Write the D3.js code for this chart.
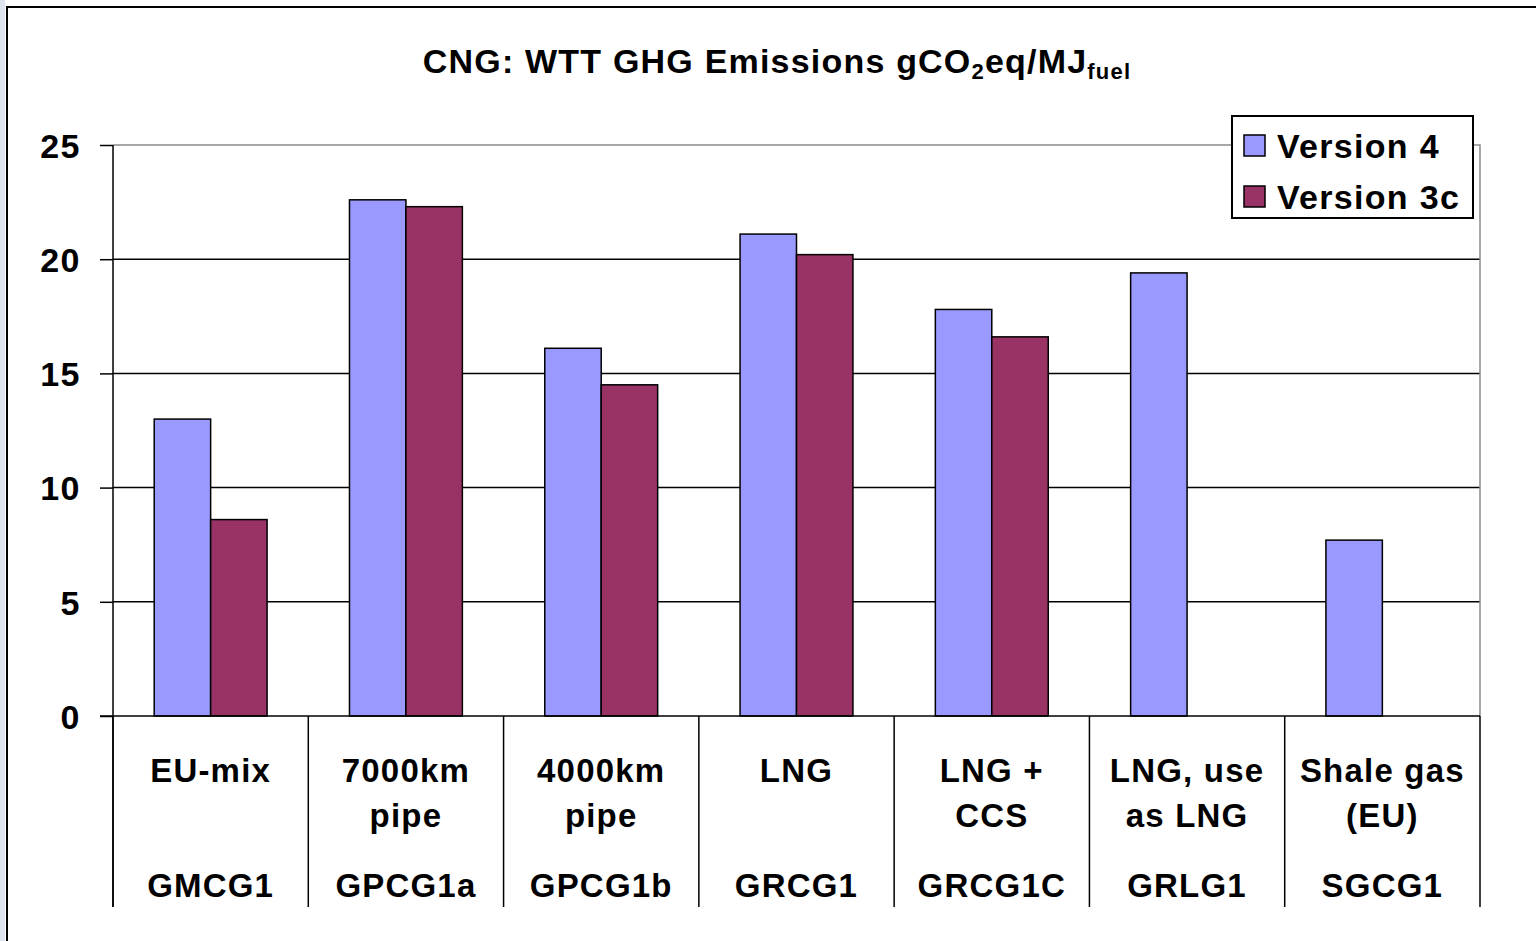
<!DOCTYPE html>
<html>
<head>
<meta charset="utf-8">
<script src="https://cdn.jsdelivr.net/npm/d3@7"></script>
<style>
  body { margin: 0; background: #fff; }
  text { font-family: "Liberation Sans", Arial, sans-serif; font-weight: bold; fill: #000; }
</style>
</head>
<body>
<script>
'use strict';

// chart data
const categories = ["EU-mix", "7000km pipe", "4000km pipe", "LNG", "LNG + CCS", "LNG, use as LNG", "Shale gas (EU)"]
const labelLines = [["EU-mix"], ["7000km", "pipe"], ["4000km", "pipe"], ["LNG"], ["LNG +", "CCS"], ["LNG, use", "as LNG"], ["Shale gas", "(EU)"]]
const codes = ["GMCG1", "GPCG1a", "GPCG1b", "GRCG1", "GRCG1C", "GRLG1", "SGCG1"]
const seriesNames = ["Version 4", "Version 3c"]
const version4 = [13.0, 22.6, 16.1, 21.1, 17.8, 19.4, 7.7]
const version3c = [8.6, 22.3, 14.5, 20.2, 16.6, null, null]
const yTicks = [0, 5, 10, 15, 20, 25]

const colors = { "Version 4": "#9999FF", "Version 3c": "#993366" }

const m = { width: 1536, height: 941, left: 113, right: 1480, top: 145, bottom: 716, catBottom: 907 }

const svg = d3.select('body')
  .append('svg')
  .attr('width', m.width)
  .attr('height', m.height)

// outer frame (only top/left edges visible in the picture)
svg.append('rect').attr('x', 0).attr('y', 0).attr('width', 5).attr('height', m.height).style('fill', '#dfe5ee')
svg.append('rect')
  .attr('x', 7).attr('y', 7)
  .attr('width', m.width + 20).attr('height', m.height + 20)
  .style('fill', '#fff').style('stroke', '#000').style('stroke-width', 2)

// scales
const x0 = d3.scaleBand().domain(categories).range([m.left, m.right]).padding(0)
const x1 = d3.scaleBand().domain(seriesNames).range([0, x0.bandwidth()]).paddingInner(0).paddingOuter(0.73)
const y = d3.scaleLinear().domain([0, 25]).range([m.bottom, m.top])

// grid lines
svg.append('g').selectAll('line')
  .data(yTicks.filter(d => d > 0 && d < 25))
  .enter().append('line')
  .attr('x1', m.left).attr('x2', m.right)
  .attr('y1', d => y(d)).attr('y2', d => y(d))
  .style('stroke', '#000').style('stroke-width', 1.5)

// plot area border (top + right, grey)
svg.append('path')
  .attr('d', `M${m.left},${y(25)}H${m.right}V${m.bottom}`)
  .style('fill', 'none').style('stroke', '#8c8c8c').style('stroke-width', 1.5)

// bars
const rows = categories.map((c, i) => ({ cat: c, vals: [version4[i], version3c[i]] }))
const groups = svg.append('g').selectAll('g')
  .data(rows)
  .enter().append('g')
  .attr('transform', d => 'translate(' + x0(d.cat) + ',0)')

groups.selectAll('rect')
  .data(d => seriesNames.map((s, j) => ({ s: s, v: d.vals[j] })).filter(e => e.v !== null))
  .enter().append('rect')
  .attr('x', d => x1(d.s))
  .attr('y', d => y(d.v))
  .attr('width', x1.bandwidth())
  .attr('height', d => y(0) - y(d.v))
  .style('fill', d => colors[d.s])
  .style('stroke', '#000').style('stroke-width', 1.5)

// y axis
const yAxis = d3.axisLeft(y).tickValues(yTicks).tickSize(13).tickPadding(19)
const ya = svg.append('g')
  .attr('transform', 'translate(' + m.left + ',0)')
  .call(yAxis)
ya.select('.domain').remove()
ya.selectAll('line').style('stroke', '#000').style('stroke-width', 1.5)
ya.selectAll('text').style('font-size', '34px').style('letter-spacing', '1.5px').attr('dy', '0.36em')

svg.append('line')
  .attr('x1', m.left).attr('x2', m.left)
  .attr('y1', m.top).attr('y2', m.catBottom)
  .style('stroke', '#000').style('stroke-width', 1.5)

// x axis line
svg.append('line')
  .attr('x1', m.left - 13).attr('x2', m.right)
  .attr('y1', m.bottom).attr('y2', m.bottom)
  .style('stroke', '#000').style('stroke-width', 1.5)

// category separators
svg.append('g').selectAll('line')
  .data(categories.concat(['end']))
  .enter().append('line')
  .attr('x1', (d, i) => i < categories.length ? x0(d) : m.right)
  .attr('x2', (d, i) => i < categories.length ? x0(d) : m.right)
  .attr('y1', m.bottom).attr('y2', m.catBottom)
  .style('stroke', '#000').style('stroke-width', 1.5)

// category labels
const catLabels = svg.append('g').selectAll('text')
  .data(categories)
  .enter().append('text')
  .attr('text-anchor', 'middle')
  .style('font-size', '33px')
  .style('letter-spacing', '1.2px')

catLabels.each(function(d, i) {
  const cx = x0(d) + x0.bandwidth() / 2
  const t = d3.select(this)
  labelLines[i].forEach((ln, k) => {
    t.append('tspan').attr('x', cx).attr('y', 782 + k * 45).text(ln)
  })
})

svg.append('g').selectAll('text')
  .data(codes)
  .enter().append('text')
  .attr('text-anchor', 'middle')
  .attr('x', (d, i) => x0(categories[i]) + x0.bandwidth() / 2)
  .attr('y', 897)
  .style('font-size', '33px')
  .style('letter-spacing', '1.2px')
  .text(d => d)

// title
const title = svg.append('text')
  .attr('x', 777)
  .attr('y', 73)
  .attr('text-anchor', 'middle')
  .style('font-size', '34px')
  .style('letter-spacing', '1.2px')
title.append('tspan').text('CNG: WTT GHG Emissions gCO')
title.append('tspan').attr('dy', 6).style('font-size', '22px').text('2')
title.append('tspan').attr('dy', -6).text('eq/MJ')
title.append('tspan').attr('dy', 6).style('font-size', '22px').text('fuel')

// legend
const lg = svg.append('g')
lg.append('rect')
  .attr('x', 1232).attr('y', 116).attr('width', 241).attr('height', 102)
  .style('fill', '#fff').style('stroke', '#000').style('stroke-width', 2)
seriesNames.forEach((s, i) => {
  lg.append('rect')
    .attr('x', 1244).attr('y', 135 + i * 51).attr('width', 21).attr('height', 21)
    .style('fill', colors[s]).style('stroke', '#000').style('stroke-width', 1.5)
  lg.append('text')
    .attr('x', 1277).attr('y', 158 + i * 51)
    .style('font-size', '34px')
    .style('letter-spacing', '1.3px')
    .text(s)
})
</script>
</body>
</html>
